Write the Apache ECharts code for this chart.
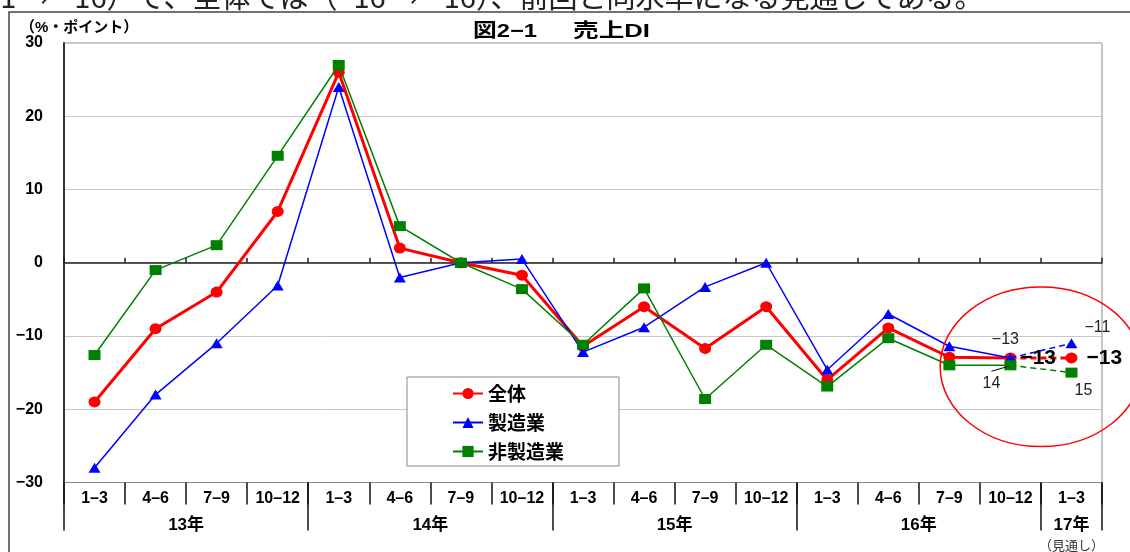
<!DOCTYPE html>
<html>
<head>
<meta charset="utf-8">
<title>図2-1 売上DI</title>
<script src="https://cdn.jsdelivr.net/npm/echarts@6/dist/echarts.min.js"></script>
<style>
  html, body { margin: 0; padding: 0; background: #fff; }
  #chart { width: 1130px; height: 552px; }
</style>
</head>
<body>
<div id="chart"></div>
<script>
// Quarter tick labels, one per category (last one is the forecast quarter)
const quarters = ['1–3', '4–6', '7–9', '10–12', '1–3', '4–6', '7–9', '10–12',
                  '1–3', '4–6', '7–9', '10–12', '1–3', '4–6', '7–9', '10–12', '1–3'];
// Year group labels and how many quarters each group spans
const years = ['13年', '14年', '15年', '16年', '17年'];
const yearSpans = [4, 4, 4, 4, 1];
const forecastNote = '（見通し）';
const seriesNames = ['全体', '製造業', '非製造業'];

// Sales DI (% points)
const total            = [-19, -9, -4, 7, 26, 2, 0, -1.7, -11.4, -6, -11.7, -6, -16, -8.9, -12.9, -13, -13];
const manufacturing    = [-28, -18, -11, -3.1, 24, -2, 0, 0.5, -12.2, -8.8, -3.3, 0, -14.6, -7, -11.4, -13, -11];
const nonManufacturing = [-12.6, -1, 2.4, 14.6, 27, 5, 0, -3.6, -11.2, -3.5, -18.6, -11.2, -16.9, -10.3, -14, -14, -15];

const yMin = -30, yMax = 30, yStep = 10;

const LATIN = "'Liberation Sans', 'Noto Sans CJK JP', sans-serif";
const CJK = "'Noto Sans CJK JP', 'Liberation Sans', sans-serif";
const fmtNum = v => (v < 0 ? '−' + Math.abs(v) : String(v));

const lastIdx = quarters.length - 1;   // forecast point
const prevIdx = lastIdx - 1;           // latest actual point

// year boundaries / centres on a 0..N scale spanning the category band
const yearBounds = [0];
yearSpans.forEach(s => yearBounds.push(yearBounds[yearBounds.length - 1] + s));
const yearCenters = years.map((_, i) => (yearBounds[i] + yearBounds[i + 1]) / 2);

// split a series into the actual (solid) part and the forecast (dashed) part
function split(values, labels) {
  const solid = values.map((v, i) => {
    if (i > prevIdx) return '-';
    return labels[i] ? { value: v, label: labels[i] } : v;
  });
  const dashed = values.map((v, i) => {
    if (i < prevIdx) return '-';
    if (i === prevIdx) return { value: v, symbol: 'none' };
    return labels[i] ? { value: v, label: labels[i] } : v;
  });
  return [solid, dashed];
}

const valueFmt = p => fmtNum(p.value);
const smallLabel = { show: true, fontFamily: LATIN, fontSize: 16, color: '#222', formatter: valueFmt };
const bigLabel = { show: true, position: 'right', fontFamily: LATIN, fontSize: 21, fontWeight: 'bold', color: '#000', formatter: valueFmt };

const redParts = split(total, {
  [prevIdx]: Object.assign({}, bigLabel, { distance: 4 }),
  [lastIdx]: Object.assign({}, bigLabel, { distance: 9 })
});
const blueParts = split(manufacturing, {
  [prevIdx]: Object.assign({}, smallLabel, { position: 'top', offset: [-5, 0] }),
  [lastIdx]: Object.assign({}, smallLabel, { position: 'top', offset: [26, 2] })
});
const absFmt = p => String(Math.abs(p.value));
const greenParts = split(nonManufacturing, {
  [prevIdx]: Object.assign({}, smallLabel, { position: 'bottom', offset: [-19, 0], formatter: absFmt }),
  [lastIdx]: Object.assign({}, smallLabel, { position: 'bottom', offset: [12, 0], formatter: absFmt })
});

const styles = [
  { color: '#ff0000', width: 3,   symbol: 'circle',   size: [12, 11] },
  { color: '#0000ff', width: 1.5, symbol: 'triangle', size: [12, 10] },
  { color: '#008000', width: 1.5, symbol: 'rect',     size: [12, 10] }
];
const parts = [redParts, blueParts, greenParts];

const series = [];
seriesNames.forEach((name, k) => {
  const st = styles[k];
  const common = {
    name, type: 'line', xAxisIndex: 0, yAxisIndex: 0,
    symbol: st.symbol, symbolSize: st.size, showAllSymbol: true,
    itemStyle: { color: st.color },
    animation: false, connectNulls: false, z: 2 + k
  };
  series.push(Object.assign({}, common, {
    data: parts[k][0],
    lineStyle: { color: st.color, width: st.width }
  }));
  series.push(Object.assign({}, common, {
    data: parts[k][1],
    lineStyle: { color: st.color, width: st.width, type: [6, 4] }
  }));
});

const chart = echarts.init(document.getElementById('chart'));

chart.setOption({
  backgroundColor: '#fff',
  animation: false,
  grid: {
    left: 64, right: 28, top: 43, bottom: 68,
    show: true, borderColor: '#8a8a8a', borderWidth: 1, backgroundColor: 'transparent'
  },
  legend: {
    data: seriesNames,
    orient: 'vertical', left: 407, top: 377,
    padding: [6, 55, 4, 45], itemGap: 8, itemWidth: 30, itemHeight: 14,
    backgroundColor: '#fff', borderColor: '#888', borderWidth: 1,
    textStyle: { fontFamily: CJK, fontWeight: 'bold', fontSize: 19, color: '#000', lineHeight: 21 },
    selectedMode: false
  },
  xAxis: [
    { // quarter axis along the bottom
      type: 'category', data: quarters, position: 'bottom',
      axisLine: { onZero: false, lineStyle: { color: '#8a8a8a', width: 1 } },
      axisTick: { show: true, interval: 0, length: 22, lineStyle: { color: '#111', width: 1.5 } },
      axisLabel: { interval: 0, margin: 8, fontFamily: LATIN, fontWeight: 'bold', fontSize: 16, color: '#000' },
      splitLine: { show: false }
    },
    { // zero line with small upward ticks
      type: 'category', data: quarters, position: 'bottom',
      axisLine: { onZero: true, onZeroAxisIndex: 0, lineStyle: { color: '#222', width: 1.5 } },
      axisTick: { show: true, inside: true, interval: 0, length: 5, lineStyle: { color: '#222', width: 1.5 } },
      axisLabel: { show: false },
      splitLine: { show: false }
    },
    { // year groups
      type: 'value', min: 0, max: yearBounds[yearBounds.length - 1], position: 'bottom',
      axisLine: { show: false, onZero: false },
      axisTick: { show: true, customValues: yearBounds, length: 48, lineStyle: { color: '#111', width: 1.5 } },
      axisLabel: {
        show: true, customValues: yearCenters, margin: 33,
        formatter: v => {
          const i = yearCenters.indexOf(v);
          if (i < 0) return '';
          return i === years.length - 1 ? '{y|' + years[i] + '}\n{n|' + forecastNote + '}' : '{y|' + years[i] + '}';
        },
        rich: {
          y: { fontFamily: LATIN, fontWeight: 'bold', fontSize: 17, color: '#000', lineHeight: 20 },
          n: { fontFamily: CJK, fontSize: 13, color: '#333', lineHeight: 20 }
        }
      },
      splitLine: { show: false }
    }
  ],
  yAxis: {
    type: 'value', min: yMin, max: yMax, interval: yStep,
    axisLine: { show: true, lineStyle: { color: '#333', width: 2 } },
    axisTick: { show: false },
    axisLabel: { margin: 21, fontFamily: LATIN, fontWeight: 'bold', fontSize: 16, color: '#000', formatter: fmtNum },
    splitLine: { show: true, lineStyle: { color: '#c8c8c8', width: 1 } }
  },
  series
});

// annotations: frame, headings, forecast ring, leader line
const conv = (x, y) => chart.convertToPixel({ xAxisIndex: 0, yAxisIndex: 0 }, [x, y]);
const pA = conv(prevIdx, 0), pB = conv(lastIdx, 0);
const band = pB[0] - pA[0];
const ringCenterValue = -14.2, ringHalfSpan = 10.9;
const cy = conv(prevIdx, ringCenterValue)[1];
const ry = conv(prevIdx, ringCenterValue - ringHalfSpan)[1] - cy;
const gPt = conv(prevIdx, nonManufacturing[prevIdx]);

const headFont = "bold 19px 'Liberation Sans', 'Noto Sans CJK JP', sans-serif";

chart.setOption({
  graphic: [
    { // page text above the chart
      type: 'text', x: -32, y: -18, z: 10,
      style: { text: '−11 → −16）で、全体では（−16 → −16）、前回と同水準になる見通しである。',
               font: "29px 'Noto Sans CJK JP', sans-serif", fill: '#222' }
    },
    { // chart frame
      type: 'polyline', z: 10,
      shape: { points: [[9, 560], [9, 12], [1140, 12]] },
      style: { stroke: '#444', lineWidth: 1.5, fill: null }
    },
    {
      type: 'text', x: 20, y: 20, z: 10,
      style: { text: '（%・ポイント）', font: "bold 15px 'Liberation Sans', 'Noto Sans CJK JP', sans-serif", fill: '#000' }
    },
    {
      type: 'text', x: 537, y: 22, z: 10, scaleX: 1.25,
      style: { text: '図2−1', textAlign: 'right', font: headFont, fill: '#000' }
    },
    {
      type: 'text', x: 573, y: 22, z: 10, scaleX: 1.35,
      style: { text: '売上DI', textAlign: 'left', font: headFont, fill: '#000' }
    },
    {
      type: 'ellipse', z: 10, silent: true,
      shape: { cx: (pA[0] + pB[0]) / 2, cy: cy, rx: band * 1.65, ry: ry },
      style: { stroke: '#ff0000', lineWidth: 1.5, fill: null }
    },
    {
      type: 'line', z: 10, silent: true,
      shape: { x1: gPt[0] - 19, y1: gPt[1] + 6, x2: gPt[0] - 2, y2: gPt[1] + 1 },
      style: { stroke: '#000', lineWidth: 1 }
    }
  ]
});
</script>
</body>
</html>
